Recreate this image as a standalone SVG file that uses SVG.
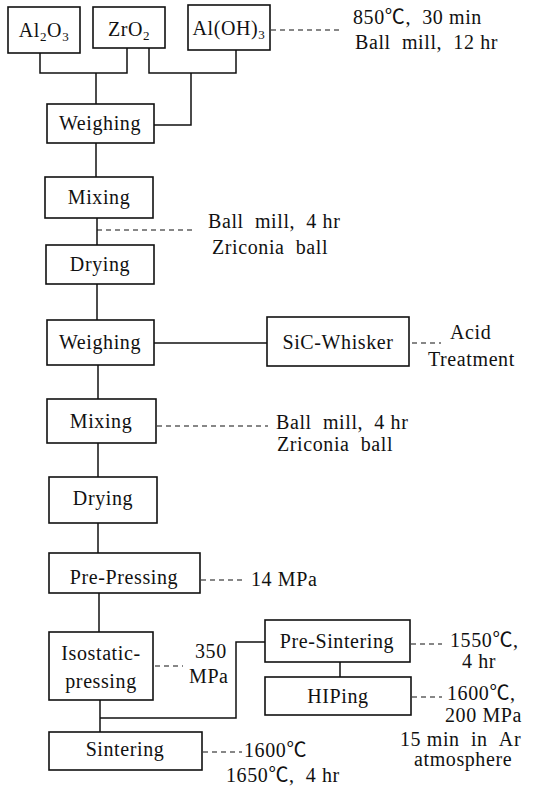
<svg xmlns="http://www.w3.org/2000/svg" width="552" height="786" viewBox="0 0 552 786">
<style>
.b{fill:#fff;stroke:#111;stroke-width:1.6}
.c{fill:none;stroke:#111;stroke-width:1.5}
.d{fill:none;stroke:#111;stroke-width:1.2;stroke-dasharray:5 4}
.t text{font-size:20px;fill:#111;letter-spacing:0.6px}
.m{text-anchor:middle}
</style>
<rect width="552" height="786" fill="#fff"/>
<g id="connectors">
<polyline class="c" points="40,53 40,73 127,73 127,48"/>
<line class="c" x1="96" y1="73" x2="96" y2="104"/>
<polyline class="c" points="149,48 149,73 236,73 236,50"/>
<polyline class="c" points="191,73 191,125 154,125"/>
<line class="c" x1="96" y1="143" x2="96" y2="177"/>
<line class="c" x1="97" y1="218" x2="97" y2="245"/>
<line class="c" x1="97" y1="284" x2="97" y2="320"/>
<line class="c" x1="154" y1="343" x2="267" y2="343"/>
<line class="c" x1="98" y1="365" x2="98" y2="399"/>
<line class="c" x1="98" y1="443" x2="98" y2="477"/>
<line class="c" x1="98" y1="523" x2="98" y2="553"/>
<line class="c" x1="99" y1="593" x2="99" y2="632"/>
<line class="c" x1="100" y1="700" x2="100" y2="732"/>
<polyline class="c" points="100,718 236,718 236,642 265,642"/>
<line class="c" x1="340" y1="662" x2="340" y2="677"/>
<line class="d" x1="271" y1="30" x2="342" y2="30"/>
<line class="d" x1="97" y1="230" x2="193" y2="230"/>
<line class="d" x1="412" y1="343" x2="441" y2="343"/>
<line class="d" x1="157" y1="426" x2="268" y2="426"/>
<line class="d" x1="201" y1="580" x2="246" y2="580"/>
<line class="d" x1="155" y1="666" x2="183" y2="666"/>
<line class="d" x1="411" y1="644" x2="442" y2="644"/>
<line class="d" x1="412" y1="697" x2="442" y2="697"/>
<line class="d" x1="203" y1="752" x2="242" y2="752"/>
</g>
<g class="t" font-family="'Liberation Serif', 'Times New Roman', 'Noto Sans CJK JP', 'DejaVu Serif', serif">
<g id="al2o3"><rect class="b" x="8" y="7" width="72" height="46"/><text class="m" x="44" y="37">Al<tspan font-size="13" dy="4">2</tspan><tspan dy="-4">O</tspan><tspan font-size="13" dy="4">3</tspan></text></g>
<g id="zro2"><rect class="b" x="93" y="7" width="72" height="41"/><text class="m" x="129" y="36">ZrO<tspan font-size="13" dy="4">2</tspan></text></g>
<g id="aloh3"><rect class="b" x="188" y="5" width="82" height="45"/><text class="m" x="229" y="35">Al(OH)<tspan font-size="13" dy="4">3</tspan></text></g>
<g id="note1"><text x="353" y="24">850℃, &#160;30 min</text><text x="355" y="49">Ball &#160;mill, &#160;12 hr</text></g>
<g id="weighing1"><rect class="b" x="47" y="104" width="107" height="39"/><text class="m" x="100" y="130">Weighing</text></g>
<g id="mixing1"><rect class="b" x="45" y="177" width="108" height="41"/><text class="m" x="99" y="204">Mixing</text></g>
<g id="note2"><text x="208" y="228">Ball &#160;mill, &#160;4 hr</text><text x="212" y="254">Zriconia &#160;ball</text></g>
<g id="drying1"><rect class="b" x="46" y="245" width="108" height="39"/><text class="m" x="100" y="271">Drying</text></g>
<g id="weighing2"><rect class="b" x="47" y="320" width="107" height="45"/><text class="m" x="100" y="349">Weighing</text></g>
<g id="sic"><rect class="b" x="267" y="317" width="142" height="49"/><text class="m" x="338" y="349">SiC-Whisker</text></g>
<g id="note3"><text x="450" y="339">Acid</text><text x="428" y="366">Treatment</text></g>
<g id="mixing2"><rect class="b" x="47" y="399" width="109" height="44"/><text class="m" x="101" y="428">Mixing</text></g>
<g id="note4"><text x="276" y="429">Ball &#160;mill, &#160;4 hr</text><text x="277" y="451">Zriconia &#160;ball</text></g>
<g id="drying2"><rect class="b" x="49" y="477" width="108" height="46"/><text class="m" x="103" y="505">Drying</text></g>
<g id="prepressing"><rect class="b" x="49" y="553" width="151" height="40"/><text class="m" x="124" y="584">Pre-Pressing</text></g>
<g id="note5"><text x="251" y="586">14 MPa</text></g>
<g id="isostatic"><rect class="b" x="49" y="632" width="104" height="68"/><text class="m" x="101" y="660">Isostatic-</text><text class="m" x="101" y="688">pressing</text></g>
<g id="note6"><text x="195" y="658">350</text><text x="189" y="683">MPa</text></g>
<g id="presintering"><rect class="b" x="265" y="620" width="145" height="42"/><text class="m" x="337" y="648">Pre-Sintering</text></g>
<g id="note7"><text x="450" y="647">1550℃,</text><text x="462" y="668">4 hr</text></g>
<g id="hiping"><rect class="b" x="265" y="677" width="146" height="38"/><text class="m" x="338" y="703">HIPing</text></g>
<g id="note8"><text x="447" y="700">1600℃,</text><text x="445" y="722">200 MPa</text><text x="400" y="746">15 min &#160;in &#160;Ar</text><text x="414" y="766">atmosphere</text></g>
<g id="sintering"><rect class="b" x="49" y="732" width="153" height="38"/><text class="m" x="125" y="756">Sintering</text></g>
<g id="note9"><text x="244" y="757">1600℃</text><text x="226" y="782">1650℃, &#160;4 hr</text></g>
</g>
</svg>
